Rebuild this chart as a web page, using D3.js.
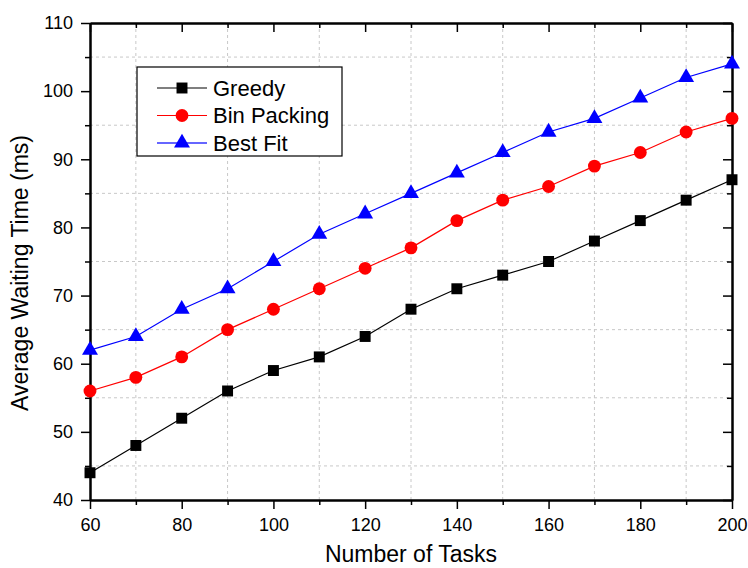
<!DOCTYPE html>
<html>
<head>
<meta charset="utf-8">
<script src="https://cdn.jsdelivr.net/npm/d3@7"></script>
<style>
	body { margin: 0; background: #fff; }
	svg { display: block; font-family: Arial, "Liberation Sans", sans-serif; }
</style>
</head>
<body>
<svg width="748" height="568"></svg>
<script>
const tasks = [60, 70, 80, 90, 100, 110, 120, 130, 140, 150, 160, 170, 180, 190, 200];
const greedy = [44, 48, 52, 56, 59, 61, 64, 68, 71, 73, 75, 78, 81, 84, 87];
const binPacking = [56, 58, 61, 65, 68, 71, 74, 77, 81, 84, 86, 89, 91, 94, 96];
const bestFit = [62, 64, 68, 71, 75, 79, 82, 85, 88, 91, 94, 96, 99, 102, 104];
const xTicks = [60, 80, 100, 120, 140, 160, 180, 200];
const yTicks = [40, 50, 60, 70, 80, 90, 100, 110];

const series = [
	{ name: "Greedy", values: greedy, color: "#000000", marker: "square" },
	{ name: "Bin Packing", values: binPacking, color: "#ff0000", marker: "circle" },
	{ name: "Best Fit", values: bestFit, color: "#0000ff", marker: "triangle" }
];

const svg = d3.select("svg");
const margin = { top: 23, right: 16, bottom: 68, left: 90 };
const width = 748 - margin.left - margin.right;
const height = 568 - margin.top - margin.bottom;

const x = d3.scaleLinear([60, 200], [0, width]);
const y = d3.scaleLinear([40, 110], [height, 0]);

const g = svg.append("g")
	.attr("transform", `translate(${margin.left},${margin.top})`);

// grid only on the minor ticks
const xMinor = d3.range(70, 200, 20);
const yMinor = d3.range(45, 110, 10);

g.append("g").selectAll("line")
	.data(xMinor)
	.join("line")
	.attr("x1", d => x(d)).attr("x2", d => x(d))
	.attr("y1", 0).attr("y2", height)
	.attr("stroke", "#c8c8c8")
	.attr("stroke-dasharray", "3,3");

g.append("g").selectAll("line")
	.data(yMinor)
	.join("line")
	.attr("x1", 0).attr("x2", width)
	.attr("y1", d => y(d)).attr("y2", d => y(d))
	.attr("stroke", "#c8c8c8")
	.attr("stroke-dasharray", "3,3");

// axes
function styleAxis(sel) {
	sel.select(".domain").attr("stroke", "#000").attr("stroke-width", 2);
	sel.selectAll(".tick line").attr("stroke", "#000").attr("stroke-width", 1.5);
	sel.selectAll("text").attr("font-size", "18px").attr("fill", "#000");
	sel.attr("font-family", null);
}

g.append("g")
	.attr("transform", `translate(0,${height})`)
	.call(d3.axisBottom(x).tickValues(xTicks).tickSize(9).tickSizeOuter(0).tickPadding(9))
	.call(styleAxis);

g.append("g")
	.attr("transform", `translate(0,${height})`)
	.call(d3.axisBottom(x).tickValues(xMinor).tickSize(5).tickFormat("").tickSizeOuter(0))
	.call(styleAxis);

g.append("g")
	.call(d3.axisLeft(y).tickValues(yTicks).tickSize(9).tickSizeOuter(0).tickPadding(8))
	.call(styleAxis);

g.append("g")
	.call(d3.axisLeft(y).tickValues(yMinor).tickSize(5).tickFormat("").tickSizeOuter(0))
	.call(styleAxis);

// mirrored axes, ticks inward
g.append("g")
	.call(d3.axisBottom(x).tickValues(xTicks).tickSize(9).tickFormat("").tickSizeOuter(0))
	.call(styleAxis);
g.append("g")
	.call(d3.axisBottom(x).tickValues(xMinor).tickSize(5).tickFormat("").tickSizeOuter(0))
	.call(styleAxis);
g.append("g")
	.attr("transform", `translate(${width},0)`)
	.call(d3.axisLeft(y).tickValues(yTicks).tickSize(9).tickFormat("").tickSizeOuter(0))
	.call(styleAxis);
g.append("g")
	.attr("transform", `translate(${width},0)`)
	.call(d3.axisLeft(y).tickValues(yMinor).tickSize(5).tickFormat("").tickSizeOuter(0))
	.call(styleAxis);

// lines and markers
const line = d3.line()
	.x((d, i) => x(tasks[i]))
	.y(d => y(d));

const sym = {
	square: d3.symbol(d3.symbolSquare, 120),
	circle: d3.symbol(d3.symbolCircle, 130),
	triangle: d3.symbol(d3.symbolTriangle, 110)
};

series.forEach(s => {
	g.append("path")
		.attr("fill", "none")
		.attr("stroke", s.color)
		.attr("stroke-width", 1.2)
		.attr("d", line(s.values));

	g.append("g")
		.selectAll("path")
		.data(s.values)
		.join("path")
		.attr("transform", (d, i) => `translate(${x(tasks[i])},${y(d)})`)
		.attr("d", sym[s.marker]())
		.attr("fill", s.color);
});

// legend
const legend = svg.append("g").attr("transform", "translate(137,67)");
legend.append("rect")
	.attr("width", 205).attr("height", 89)
	.attr("fill", "#fff")
	.attr("stroke", "#000")
	.attr("stroke-width", 1.2);

series.forEach((s, i) => {
	const row = legend.append("g").attr("transform", `translate(0,${21 + i * 27.5})`);
	row.append("line")
		.attr("x1", 20).attr("x2", 70)
		.attr("stroke", s.color)
		.attr("stroke-opacity", s.marker === "triangle" ? 0.6 : 1)
		.attr("stroke-width", s.marker === "triangle" ? 2 : 1.2);
	row.append("path")
		.attr("transform", "translate(45,0)")
		.attr("d", sym[s.marker]())
		.attr("fill", s.color);
	row.append("text")
		.attr("x", 76)
		.attr("dy", "0.35em")
		.attr("font-size", "22px")
		.text(s.name);
});

// axis titles
svg.append("text")
	.attr("x", margin.left + width / 2)
	.attr("y", 562)
	.attr("text-anchor", "middle")
	.attr("font-size", "23px")
	.text("Number of Tasks");

svg.append("text")
	.attr("transform", `translate(28,273) rotate(-90)`)
	.attr("text-anchor", "middle")
	.attr("font-size", "23px")
	.text("Average Waiting Time (ms)");
</script>
</body>
</html>
